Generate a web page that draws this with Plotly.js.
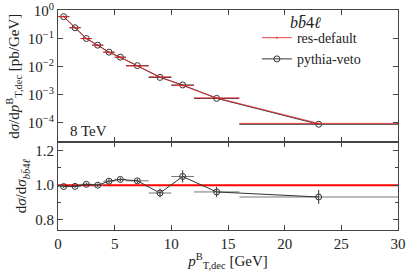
<!DOCTYPE html>
<html><head><meta charset="utf-8">
<script src="https://cdn.plot.ly/plotly-3.0.1.min.js"></script>
<style>html,body{margin:0;padding:0;background:#fff;}#c{width:407px;height:271px;}</style>
</head><body><div id="c"></div>
<script>
const binCenters = [0.5, 1.5, 2.5, 3.5, 4.5, 5.5, 7, 9, 11, 14, 23];
const binHalfWidths = [0.5, 0.5, 0.5, 0.5, 0.5, 0.5, 1, 1, 1, 2, 7];
const resDefault = [0.61, 0.245, 0.1, 0.058, 0.032, 0.021, 0.0105, 0.0043, 0.0021, 0.00076, 0.000093];
const pythiaVeto = [0.605, 0.243, 0.1005, 0.058, 0.0327, 0.0217, 0.0108, 0.0041, 0.0022, 0.00073, 0.000087];
const ratioVeto = [0.992, 0.993, 1.005, 1.0, 1.023, 1.033, 1.025, 0.955, 1.05, 0.961, 0.932];
const ratioErr = [0.008, 0.008, 0.01, 0.01, 0.012, 0.012, 0.012, 0.026, 0.035, 0.03, 0.04];
const ratioRef = [1, 1];
const ratioRefX = [0, 30];
const xTicks = [0, 5, 10, 15, 20, 25, 30];
const logTickVals = [1, 0.1, 0.01, 0.001, 0.0001];
const logTickText = ['10<sup>0</sup>', '10<sup>−1</sup>', '10<sup>−2</sup>', '10<sup>−3</sup>', '10<sup>−4</sup>'];

const F = 'Liberation Serif, DejaVu Serif, serif';
const traces = [
  {x: binCenters, y: pythiaVeto, xaxis: 'x2', yaxis: 'y2', type: 'scatter', mode: 'lines+markers',
   name: 'pythia-veto', legendrank: 2, line: {color: '#333', width: 1},
   marker: {symbol: 'circle-open', size: 6, color: '#333', line: {width: 1}},
   error_x: {type: 'data', array: binHalfWidths, visible: true, width: 0, color: '#333', thickness: 1}},
  {x: binCenters, y: resDefault, xaxis: 'x2', yaxis: 'y2', type: 'scatter', mode: 'lines+markers',
   name: 'res-default', legendrank: 1, line: {color: '#e8282a', width: 1}, opacity: 0.85,
   marker: {symbol: 'circle', size: 2, color: '#e8282a'},
   error_x: {type: 'data', array: binHalfWidths, visible: true, width: 0, color: '#e8282a', thickness: 1}},
  {x: ratioRefX, y: ratioRef, xaxis: 'x', yaxis: 'y', type: 'scatter', mode: 'lines',
   showlegend: false, line: {color: '#ff0000', width: 2}},
  {x: binCenters, y: ratioVeto, xaxis: 'x', yaxis: 'y', type: 'scatter', mode: 'lines+markers',
   showlegend: false, line: {color: '#333', width: 1},
   marker: {symbol: 'circle-open', size: 6, color: '#333', line: {width: 1}},
   error_x: {type: 'data', array: binHalfWidths, visible: true, width: 0, color: '#777', thickness: 1},
   error_y: {type: 'data', array: ratioErr, visible: true, width: 0, color: '#333', thickness: 1}}
];

const axBase = {showgrid: false, zeroline: false, showline: true, linecolor: '#444', linewidth: 1,
  mirror: 'ticks', ticks: 'inside', ticklen: 5, tickcolor: '#444',
  tickfont: {family: F, size: 15, color: '#222'}};

const layout = {
  width: 407, height: 271,
  margin: {l: 58, r: 9, t: 10, b: 41},
  paper_bgcolor: '#fff', plot_bgcolor: '#fff',
  font: {family: F, size: 15, color: '#222'},
  showlegend: true,
  legend: {x: 0.585, y: 0.945, xanchor: 'left', yanchor: 'top', bgcolor: 'rgba(0,0,0,0)',
    font: {family: F, size: 14, color: '#222'}, tracegroupgap: 0, itemwidth: 30},
  xaxis: Object.assign({}, axBase, {range: [0, 30], tickvals: xTicks, anchor: 'y',
    title: {text: '<i>p</i><sup>B</sup><sub>T,dec</sub> [GeV]', standoff: 3, font: {family: F, size: 15}}}),
  xaxis2: Object.assign({}, axBase, {range: [0, 30], tickvals: xTicks, anchor: 'y2', matches: 'x', showticklabels: false}),
  yaxis: Object.assign({}, axBase, {domain: [0, 0.398], range: [0.742, 1.246], tickvals: [0.8, 1.0, 1.2],
    ticktext: ['0.8', '1.0', '1.2'], minor: {ticks: 'inside', ticklen: 3, dtick: 0.1, tickcolor: '#444'},
    title: {text: 'd<i>σ</i>/d<i>σ</i><sub><i>bb̄</i>4<i>ℓ</i></sub>', standoff: 4, font: {family: F, size: 15}}}),
  yaxis2: Object.assign({}, axBase, {domain: [0.398, 1], type: 'log', range: [-4.71, 0.02],
    tickvals: logTickVals, ticktext: logTickText,
    title: {text: 'd<i>σ</i>/d<i>p</i><sup>B</sup><sub>T,dec</sub> [pb/GeV]', standoff: 4, font: {family: F, size: 15}}}),
  annotations: [
    {xref: 'paper', yref: 'paper', x: 0.03, y: 0.45, xanchor: 'left', yanchor: 'middle',
     text: '8 TeV', showarrow: false, font: {family: F, size: 15, color: '#222'}},
    {xref: 'paper', yref: 'paper', x: 0.728, y: 0.945, xanchor: 'center', yanchor: 'middle',
     text: '<i>b</i><i>b̄</i>4<i>ℓ</i>', showarrow: false, font: {family: F, size: 16, color: '#222'}}
  ]
};
Plotly.newPlot('c', traces, layout, {displayModeBar: false, staticPlot: true});
</script></body></html>
